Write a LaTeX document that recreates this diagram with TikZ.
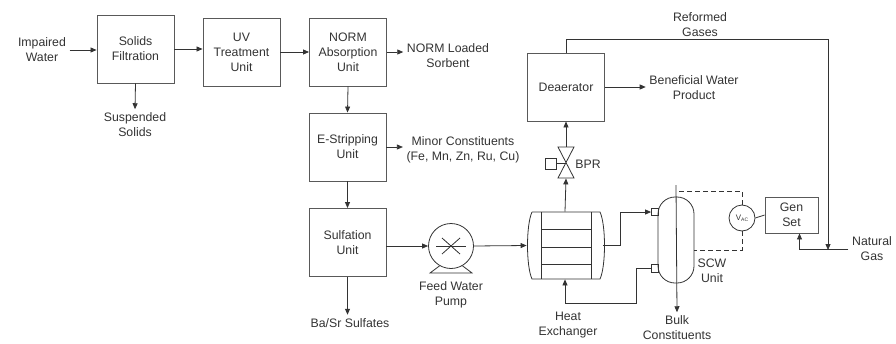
\documentclass[tikz,border=0pt]{standalone}
\usepackage{fontspec}
\setmainfont{Liberation Sans}
\usetikzlibrary{arrows,arrows.meta,shapes}

\begin{document}
\begin{tikzpicture}[x=1pt,y=-1pt,>={Triangle[length=6pt,width=5pt]},line width=0.8pt,color=black!80,
    every node/.style={font=\fontsize{12.3}{15}\selectfont, align=center},
    unit/.style={draw=black!65, line width=0.9pt, minimum width=\boxw, minimum height=\boxh, inner sep=1pt},
    part/.style={draw, inner sep=0pt},
    signal/.style={dash pattern=on 5pt off 3pt}]
      \def\boxw{77pt}
      \def\boxh{68pt}
      \useasboundingbox (0,0) rectangle (896,343);

      % process units
      \node[unit] (filt)  at (135.5,49)  {Solids\\Filtration};
      \node[unit] (uv)    at (241.5,52)  {UV\\Treatment\\Unit};
      \node[unit] (norm)  at (348,52)    {NORM\\Absorption\\Unit};
      \node[unit] (strip) at (347.5,147) {E-Stripping\\Unit};
      \node[unit] (sulf)  at (347.5,242.5) {Sulfation\\Unit};
      \node[unit] (deaer) at (566,87)    {Deaerator};
      \node[unit, minimum width=53pt, minimum height=36pt] (gen) at (791.5,215) {Gen\\Set};

      % streams
      \node (water)    at (42,50)    {Impaired\\Water};
      \node (susp)     at (135,125)  {Suspended\\Solids};
      \node (sorbent)  at (448,56)   {NORM Loaded\\Sorbent};
      \node (minor)    at (463,150)  {Minor Constituents\\(Fe, Mn, Zn, Ru, Cu)};
      \node (basr)     at (350,323)  {Ba/Sr Sulfates};
      \node (pumptxt)  at (451,295)  {Feed Water\\Pump};
      \node (hxtxt)    at (568,325)  {Heat\\Exchanger};
      \node[anchor=west, inner sep=0pt] (bprtxt) at (575,164) {BPR};
      \node (product)  at (694,88)   {Beneficial Water\\Product};
      \node (reformed) at (700,25)   {Reformed\\Gases};
      \node (natgas)   at (872,249)  {Natural\\Gas};
      \node (scwtxt)   at (712,271)  {SCW\\Unit};
      \node (bulk)     at (677,328)  {Bulk\\Constituents};

      % feed water pump
      \node[part, circle, minimum size=45pt] (pump) at (451,246) {};
      \draw (436,246) -- (466,246);
      \draw (442,238) -- (460,254);
      \draw (442,254) -- (460,238);
      \draw (pump.240) -- (430,273) -- (472,273) -- (pump.300);

      % heat exchanger
      \node[minimum width=76pt, minimum height=67pt, inner sep=0pt] (hx) at (565,245.5) {};
      \draw (532,212) -- (600,212) .. controls (606,225) and (606,266) .. (600,279)
            -- (532,279) .. controls (526,266) and (526,225) .. (532,212);
      \draw (541,212) -- (541,279);
      \draw (591,212) -- (591,279);
      \foreach \y in {229,247,264} {
        \draw (541,\y) -- (591,\y);
      }

      % back pressure regulator
      \node[minimum width=16pt, minimum height=31pt, inner sep=0pt] (valve) at (566,162.5) {};
      \draw (558,147) -- (574,147) -- (558,178) -- (574,178) -- cycle;
      \draw (556,163) -- (566,163);
      \draw (545,158) rectangle (556,169);

      % SCW unit
      \node[part, rounded corners=17pt, minimum width=36pt, minimum height=86pt] (scw) at (676,240) {};
      \node[part, minimum width=7pt, minimum height=7pt] (port1) at (655,212) {};
      \node[part, minimum width=7pt, minimum height=8pt] (port2) at (655,268) {};
      \node[part, circle, minimum size=26pt] (vac) at (742,218)
        {\fontsize{8}{9}\selectfont V\raisebox{-1pt}{\fontsize{5}{6}\selectfont AC}};
      \coordinate (scwtop) at (676,185);
      \coordinate (vtop) at (676,191);
      \coordinate (vside) at (694,250);
      \coordinate (ret) at (636,303);
      \coordinate (join) at (828,250);

      % connectors
      \draw[->] (water.east) -- (water.east -| filt.west);
      \draw[->] (filt.east) -- (filt.east -| uv.west);
      \draw[->] (uv.east) -- (norm.west);
      \draw[->] (norm.east) -- (norm.east -| sorbent.west);
      \draw[->] (filt.south) -- (susp.north);
      \draw[->] (norm.south) -- (strip.north);
      \draw[->] (strip.east) -- (strip.east -| minor.west);
      \draw[->] (strip.south) -- (sulf.north);
      \draw[->] (sulf.south) -- (sulf.south |- basr.north);
      \draw[->] (sulf.east |- pump.west) -- (pump.west);
      \draw[->] (pump.east) -- (hx.west);
      \draw[->] (hx.north) -- (valve.south);
      \draw[->] (valve.north) -- (deaer.south);
      \draw[->] (deaer.east) -- (deaer.east -| product.west);
      \draw[->] (hx.east) -- ++(17,0) |- (port1.west);
      \draw[->] (port2.west) -| (ret) -| (hx.south);
      \draw[->] (scwtop) -- (bulk.north);
      \draw[signal] (vac.north) |- (vtop);
      \draw[signal] (vac.south) |- (vside);
      \draw (vac.east) -- (gen.west);
      \draw[->] (deaer.north) -- ++(0,-13) -| (join);
      \draw[->] (natgas.west) -| ([xshift=8pt]gen.south);
    \end{tikzpicture}
\end{document}
